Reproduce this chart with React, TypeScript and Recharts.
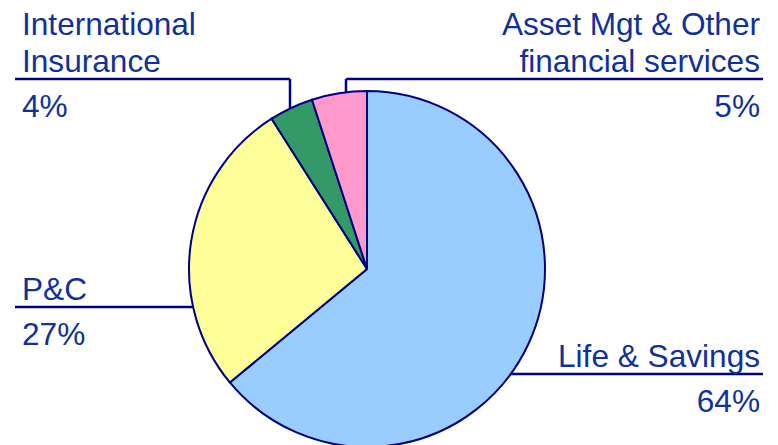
import { Cell, Pie, PieChart } from 'recharts';

const SEGMENTS = ['Life & Savings', 'P&C', 'International Insurance', 'Asset Mgt & Other financial services'];
const SHARES = [64, 27, 4, 5];
const LABEL_LINES = [
  ['Life & Savings'],
  ['P&C'],
  ['International', 'Insurance'],
  ['Asset Mgt & Other', 'financial services'],
];

const FILLS = ['#99ccff', '#ffff99', '#339966', '#ff99cc'];
const NAVY = '#000080';
const TEXT = '#10309c';
const FONT = '"Liberation Sans", Arial, sans-serif';
const FONT_SIZE = 31.6;
const LEADING = 37.5;

const data = SEGMENTS.map((name, i) => ({ name, value: SHARES[i], lines: LABEL_LINES[i] }));

// where each label sits; side = which way the leader meets the pie
type Layout = {
  side: 'left' | 'right' | 'top';
  textX: number;
  anchor: 'start' | 'end';
  lineY: number;
  lineFrom: number;
  lineTo: number;
  drop?: number;
};

const LAYOUT: Layout[] = [
  { side: 'right', textX: 760, anchor: 'end', lineY: 374, lineFrom: 0, lineTo: 763 },
  { side: 'left', textX: 22, anchor: 'start', lineY: 307, lineFrom: 15, lineTo: 0 },
  { side: 'top', textX: 22, anchor: 'start', lineY: 79, lineFrom: 15, lineTo: 290, drop: 290 },
  { side: 'top', textX: 760, anchor: 'end', lineY: 79, lineFrom: 346, lineTo: 763, drop: 346 },
];

function renderLabel(props: any) {
  const { cx, cy, outerRadius, index, value, payload } = props;
  const l = LAYOUT[index];
  const lines: string[] = payload.lines ?? payload.payload?.lines ?? [];
  let path = '';
  if (l.side === 'top') {
    const yEdge = cy - Math.sqrt(outerRadius * outerRadius - (l.drop! - cx) ** 2);
    path = `M${l.lineFrom},${l.lineY}H${l.lineTo}`;
    path += ` M${l.drop},${l.lineY}V${yEdge}`;
  } else {
    const dx = Math.sqrt(outerRadius * outerRadius - (l.lineY - cy) ** 2);
    const xEdge = l.side === 'left' ? cx - dx : cx + dx;
    path =
      l.side === 'left'
        ? `M${l.lineFrom},${l.lineY}H${xEdge}`
        : `M${xEdge},${l.lineY}H${l.lineTo}`;
  }
  const firstBase = l.lineY - 7 - (lines.length - 1) * LEADING;
  return (
    <g key={`lbl-${index}`}>
      <path d={path} stroke={NAVY} strokeWidth={2.5} fill="none" />
      {lines.map((t, k) => (
        <text
          key={k}
          x={l.textX}
          y={firstBase + k * LEADING}
          textAnchor={l.anchor}
          fill={TEXT}
          fontFamily={FONT}
          fontSize={FONT_SIZE}
        >
          {t}
        </text>
      ))}
      <text
        x={l.textX}
        y={l.lineY + 38}
        textAnchor={l.anchor}
        fill={TEXT}
        fontFamily={FONT}
        fontSize={FONT_SIZE}
      >
        {`${value}%`}
      </text>
    </g>
  );
}

export default function App() {
  return (
    <div style={{ position: 'absolute', left: 0, top: 0, background: '#fff' }}>
      <PieChart width={778} height={445} margin={{ top: 0, right: 0, bottom: 0, left: 0 }}>
        <Pie
          data={data}
          dataKey="value"
          nameKey="name"
          cx={367}
          cy={269}
          outerRadius={178}
          startAngle={90}
          endAngle={-270}
          stroke={NAVY}
          strokeWidth={2}
          label={renderLabel}
          labelLine={false}
          isAnimationActive={false}
        >
          {data.map((d, i) => (
            <Cell key={d.name} fill={FILLS[i]} />
          ))}
        </Pie>
      </PieChart>
    </div>
  );
}
